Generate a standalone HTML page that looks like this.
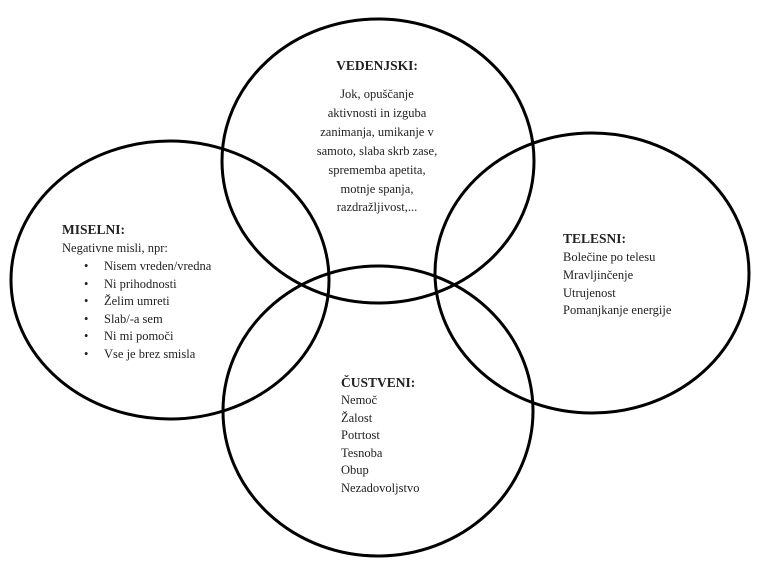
<!DOCTYPE html>
<html><head><meta charset="utf-8"><style>
body{margin:0;background:#fff;}
svg text{font-family:"Liberation Serif",serif;fill:#222;}
</style></head><body>
<svg width="768" height="569" viewBox="0 0 768 569" xmlns="http://www.w3.org/2000/svg">
<g fill="none" stroke="#000" stroke-width="3">
<ellipse cx="378" cy="161" rx="156" ry="142"/>
<ellipse cx="170" cy="280" rx="159" ry="139"/>
<ellipse cx="592" cy="273" rx="157" ry="140"/>
<ellipse cx="378" cy="411" rx="155" ry="145"/>
</g>
<g font-size="12.5">
<text x="377" y="70" text-anchor="middle" font-weight="bold" font-size="13.5">VEDENJSKI:</text>
<text x="377" y="98" text-anchor="middle">Jok, opuščanje</text>
<text x="377" y="117" text-anchor="middle">aktivnosti in izguba</text>
<text x="377" y="136" text-anchor="middle">zanimanja, umikanje v</text>
<text x="377" y="155" text-anchor="middle">samoto, slaba skrb zase,</text>
<text x="377" y="174" text-anchor="middle">sprememba apetita,</text>
<text x="377" y="193" text-anchor="middle">motnje spanja,</text>
<text x="377" y="211" text-anchor="middle">razdražljivost,...</text>

<text x="62" y="234" font-weight="bold" font-size="13.5">MISELNI:</text>
<text x="62" y="252">Negativne misli, npr:</text>
<g>
<text x="84" y="270">•</text><text x="104" y="270">Nisem vreden/vredna</text>
<text x="84" y="288">•</text><text x="104" y="288">Ni prihodnosti</text>
<text x="84" y="305">•</text><text x="104" y="305">Želim umreti</text>
<text x="84" y="323">•</text><text x="104" y="323">Slab/-a sem</text>
<text x="84" y="340">•</text><text x="104" y="340">Ni mi pomoči</text>
<text x="84" y="358">•</text><text x="104" y="358">Vse je brez smisla</text>
</g>

<text x="563" y="243" font-weight="bold" font-size="13.5">TELESNI:</text>
<text x="563" y="261">Bolečine po telesu</text>
<text x="563" y="279">Mravljinčenje</text>
<text x="563" y="297">Utrujenost</text>
<text x="563" y="314">Pomanjkanje energije</text>

<text x="341" y="387" font-weight="bold" font-size="13.5">ČUSTVENI:</text>
<text x="341" y="404">Nemoč</text>
<text x="341" y="422">Žalost</text>
<text x="341" y="439">Potrtost</text>
<text x="341" y="457">Tesnoba</text>
<text x="341" y="474">Obup</text>
<text x="341" y="492">Nezadovoljstvo</text>
</g>
</svg>
</body></html>
